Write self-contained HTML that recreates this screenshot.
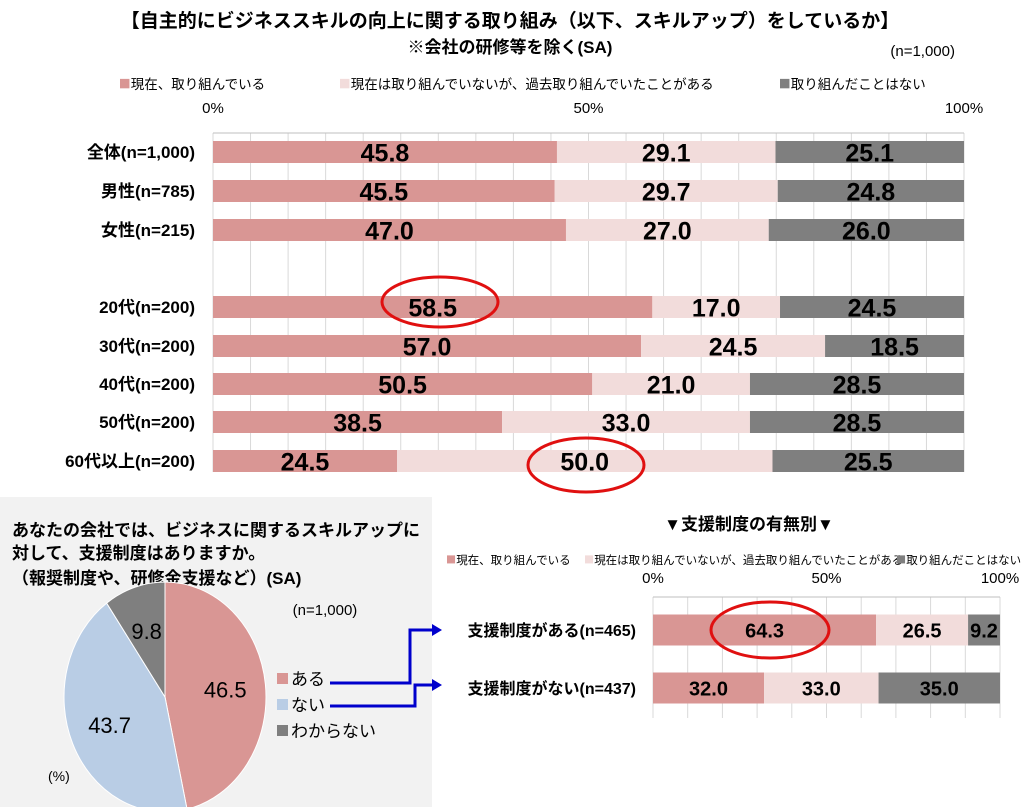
<!DOCTYPE html><html><head><meta charset="utf-8"><style>
body{margin:0;background:#fff;font-family:"Liberation Sans","Noto Sans CJK JP",sans-serif}
svg text{font-family:"Liberation Sans","Noto Sans CJK JP",sans-serif}
</style></head><body>
<svg width="1021" height="807" xmlns="http://www.w3.org/2000/svg" id="s">
<rect x="0" y="0" width="1021" height="807" fill="#fff"/>
<text x="510" y="27" font-size="19" font-weight="bold" text-anchor="middle">【自主的にビジネススキルの向上に関する取り組み（以下、スキルアップ）をしているか】</text>
<text x="510" y="53" font-size="17" font-weight="bold" text-anchor="middle">※会社の研修等を除く(SA)</text>
<text x="955" y="56" font-size="15" text-anchor="end">(n=1,000)</text>
<g id="top"></g>
<rect x="0" y="497" width="432" height="310" fill="#f2f2f2"/>
<text x="12" y="536" font-size="17" font-weight="bold">あなたの会社では、ビジネスに関するスキルアップに</text>
<text x="12" y="559" font-size="17" font-weight="bold">対して、支援制度はありますか。</text>
<text x="12" y="584" font-size="17" font-weight="bold">（報奨制度や、研修金支援など）(SA)</text>
<text x="325" y="615" font-size="15" text-anchor="middle">(n=1,000)</text>
<text x="48" y="781" font-size="14">(%)</text>
<g id="pie"></g>
<g id="bot"></g>
<text x="749" y="530" font-size="17" font-weight="bold" text-anchor="middle">▼支援制度の有無別▼</text>
<g fill="none" stroke="#e01010" stroke-width="3">
<ellipse cx="440" cy="302" rx="58" ry="25"/>
<ellipse cx="586" cy="465" rx="58" ry="27"/>
<ellipse cx="770" cy="630" rx="59" ry="28"/>
</g>
<g fill="none" stroke="#0000cc" stroke-width="3">
<polyline points="330,683 410,683 410,630 432,630"/>
<polyline points="330,706 415,706 415,685 432,685"/>
</g>
<polygon points="432,624 442,630 432,636" fill="#0000cc"/>
<polygon points="432,679 442,685 432,691" fill="#0000cc"/>
</svg>
<script>
const cats=["全体(n=1,000)","男性(n=785)","女性(n=215)","20代(n=200)","30代(n=200)","40代(n=200)","50代(n=200)","60代以上(n=200)"];
const doing=[45.8,45.5,47.0,58.5,57.0,50.5,38.5,24.5];
const past=[29.1,29.7,27.0,17.0,24.5,21.0,33.0,50.0];
const never=[25.1,24.8,26.0,24.5,18.5,28.5,28.5,25.5];
const legendLabels=["現在、取り組んでいる","現在は取り組んでいないが、過去取り組んでいたことがある","取り組んだことはない"];
const ticks=["0%","50%","100%"];
const subCats=["支援制度がある(n=465)","支援制度がない(n=437)"];
const subDoing=[64.3,32.0];
const subPast=[26.5,33.0];
const subNever=[9.2,35.0];
const pieLabels=["ある","ない","わからない"];
const pieValues=[46.5,43.7,9.8];
const colors=["#d99694","#f2dcdb","#7f7f7f"];
const pieColors=["#d99694","#b9cde5","#7f7f7f"];
const NS="http://www.w3.org/2000/svg";
function mk(p,tag,a,txt){const e=document.createElementNS(NS,tag);for(const k in a)e.setAttribute(k,a[k]);if(txt!==undefined)e.textContent=txt;p.appendChild(e);return e;}
function fmt(v){return v.toFixed(1);}
function drawBars(g,o){
 const x=v=>o.x0+(o.x1-o.x0)*v/100;
 for(let i=0;i<=20;i++){if(i%o.gstep)continue;const l=mk(g,'line',{x1:x(i*5),x2:x(i*5),y1:o.top,y2:o.bottom,stroke:'#d9d9d9'});
 
 }
 const ax=mk(g,'line',{x1:o.x0,x2:o.x1,y1:o.top,y2:o.top,stroke:'#bfbfbf'});
 
 
 ticks.forEach((t,i)=>{const e=mk(g,'text',{x:x(i*50),y:o.tickY,'font-size':o.tickFs,'text-anchor':'middle'},t);
 
 });
 o.cats.forEach((c,i)=>{const cy=o.rowY[i];
  const lb=mk(g,'text',{x:o.labelX,y:cy+o.labFs*0.36,'font-size':o.labFs,'font-weight':'bold','text-anchor':'end'},c);
  
  
  let acc=0;[o.a[i],o.b[i],o.c[i]].forEach((v,k)=>{
   const r=mk(g,'rect',{x:x(acc),y:cy-o.h/2,width:x(acc+v)-x(acc),height:o.h,fill:colors[k]});
   
   
   const t=mk(g,'text',{x:(x(acc)+x(acc+v))/2,y:cy+o.valFs*0.38,'font-size':o.valFs,'font-weight':'bold','text-anchor':'middle'},fmt(v));
   
   
   acc+=v;});
 });
 let lx=o.legX;legendLabels.forEach((l,k)=>{
  const r=mk(g,'rect',{x:lx,y:o.legY-o.legFs*0.75,width:o.legFs*0.7,height:o.legFs*0.7,fill:colors[k]});
  
  
  const t=mk(g,'text',{x:lx+o.legFs*0.8,y:o.legY,'font-size':o.legFs},l);
  
  
  lx=o.legPos[k+1]||lx;});
}
drawBars(document.getElementById('top'),{x0:213,x1:964,top:133,bottom:472,tickY:113,tickFs:15,cats:cats,rowY:[152,191,230,307,346,384,422,461],h:22,labelX:195,labFs:17,valFs:25,a:doing,b:past,c:never,legX:120,legY:89,legFs:13.5,legPos:[120,340,780],gstep:1});
drawBars(document.getElementById('bot'),{x0:653,x1:1000,top:597,bottom:718,tickY:583,tickFs:15,cats:subCats,rowY:[630,688],h:31,labelX:636,labFs:16,valFs:20,a:subDoing,b:subPast,c:subNever,legX:447,legY:564,legFs:11.5,legPos:[447,585,897],gstep:2});
const pg=document.getElementById('pie');const cx=165,cy=697,rx=101,ry=115;
let ang=0;const tot=pieValues.reduce((a,b)=>a+b,0);
pieValues.forEach((v,i)=>{const a0=ang,a1=ang+v/tot*2*Math.PI;ang=a1;
 const p=a=>[cx+rx*Math.sin(a),cy-ry*Math.cos(a)];const s=p(a0),e=p(a1);
 const path=mk(pg,'path',{d:`M${cx},${cy}L${s[0]},${s[1]}A${rx},${ry} 0 ${a1-a0>Math.PI?1:0} 1 ${e[0]},${e[1]}Z`,fill:pieColors[i],stroke:'#fff','stroke-width':1});
 
 
 const mid=(a0+a1)/2;const t=mk(pg,'text',{x:cx+rx*0.6*Math.sin(mid),y:cy-ry*0.6*Math.cos(mid)+8,'font-size':22,'text-anchor':'middle'},fmt(v));
 
 
 const r=mk(pg,'rect',{x:277,y:673+i*26,width:11,height:11,fill:pieColors[i]});
 
 
 const l=mk(pg,'text',{x:291,y:685+i*26,'font-size':17},pieLabels[i]);
 
 
});
</script>
</body></html>
